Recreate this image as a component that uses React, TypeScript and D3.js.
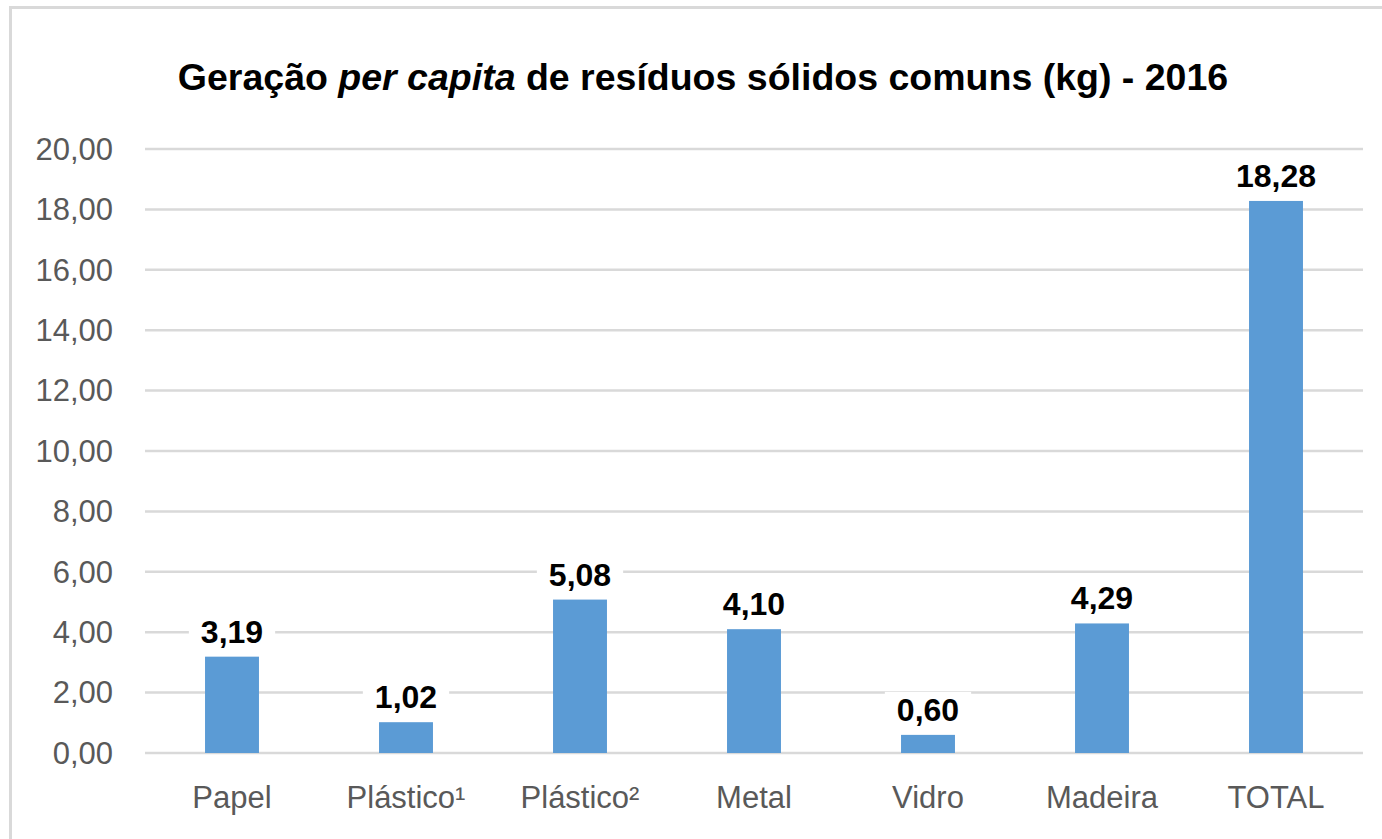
import React, { useEffect, useRef } from 'react';
import * as d3 from 'd3';

const categories = ['Papel', 'Plástico¹', 'Plástico²', 'Metal', 'Vidro', 'Madeira', 'TOTAL'];
const values = [3.19, 1.02, 5.08, 4.1, 0.6, 4.29, 18.28];
const yTicks = [0, 2, 4, 6, 8, 10, 12, 14, 16, 18, 20];

const width = 1382;
const height = 839;
const font = '"Liberation Sans", Arial, sans-serif';
const fmt = (v: number) => v.toFixed(2).replace('.', ',');

const App: React.FC = () => {
  const svgRef = useRef<SVGSVGElement>(null);

  useEffect(() => {
    if (!svgRef.current) return;
    const svg = d3.select(svgRef.current);
    svg.selectAll('*').remove();

    const plot = { left: 145, right: 1363, top: 149, bottom: 753 };

    // chart border (cropped on the right and bottom)
    svg
      .append('rect')
      .attr('x', 10.5)
      .attr('y', 7.5)
      .attr('width', width + 20)
      .attr('height', height + 20)
      .attr('fill', '#fff')
      .attr('stroke', '#d9d9d9')
      .attr('stroke-width', 3);

    // Title
    const title = svg
      .append('text')
      .attr('x', 703)
      .attr('y', 90)
      .attr('text-anchor', 'middle')
      .attr('font-family', font)
      .attr('font-size', 37.5)
      .attr('font-weight', 'bold')
      .attr('fill', '#000');
    title.append('tspan').text('Geração ');
    title.append('tspan').attr('font-style', 'italic').text('per capita');
    title.append('tspan').text(' de resíduos sólidos comuns (kg) - 2016');

    const x = d3.scaleBand().domain(categories).range([plot.left, plot.right]).paddingInner(0.69).paddingOuter(0.345);
    const y = d3.scaleLinear().domain([0, 20]).range([plot.bottom, plot.top]);

    // grid
    svg
      .append('g')
      .selectAll('line')
      .data(yTicks)
      .join('line')
      .attr('x1', plot.left)
      .attr('x2', plot.right)
      .attr('y1', (d) => y(d))
      .attr('y2', (d) => y(d))
      .attr('stroke', '#d9d9d9')
      .attr('stroke-width', 2.5);

    // y tick labels
    svg
      .append('g')
      .selectAll('text')
      .data(yTicks)
      .join('text')
      .attr('x', 113)
      .attr('y', (d) => y(d))
      .attr('dy', '0.35em')
      .attr('text-anchor', 'end')
      .attr('font-family', font)
      .attr('font-size', 31)
      .attr('fill', '#595959')
      .text((d) => fmt(d));

    // bars
    svg
      .append('g')
      .selectAll('rect')
      .data(values)
      .join('rect')
      .attr('x', (_, i) => x(categories[i]) || 0)
      .attr('y', (d) => y(d))
      .attr('width', x.bandwidth())
      .attr('height', (d) => y(0) - y(d))
      .attr('fill', '#5b9bd5');

    // data labels with white background
    const labels = svg.append('g');
    values.forEach((v, i) => {
      const cx = (x(categories[i]) || 0) + x.bandwidth() / 2;
      const g = labels.append('g');
      const bg = g.append('rect').attr('fill', '#fff');
      const t = g
        .append('text')
        .attr('x', cx)
        .attr('y', y(v) - 14)
        .attr('text-anchor', 'middle')
        .attr('font-family', font)
        .attr('font-size', 32)
        .attr('font-weight', 'bold')
        .attr('fill', '#000')
        .text(fmt(v));
      const b = (t.node() as SVGTextElement).getBBox();
      bg.attr('x', b.x - 12)
        .attr('y', b.y)
        .attr('width', b.width + 24)
        .attr('height', b.height);
    });

    // x labels
    svg
      .append('g')
      .selectAll('text')
      .data(categories)
      .join('text')
      .attr('x', (d) => (x(d) || 0) + x.bandwidth() / 2)
      .attr('y', 808)
      .attr('text-anchor', 'middle')
      .attr('font-family', font)
      .attr('font-size', 31)
      .attr('fill', '#595959')
      .text((d) => d);
  }, []);

  return (
    <svg
      ref={svgRef}
      width={width}
      height={height}
      style={{ position: 'absolute', left: 0, top: 0, background: '#fff' }}
    />
  );
};

export default App;
